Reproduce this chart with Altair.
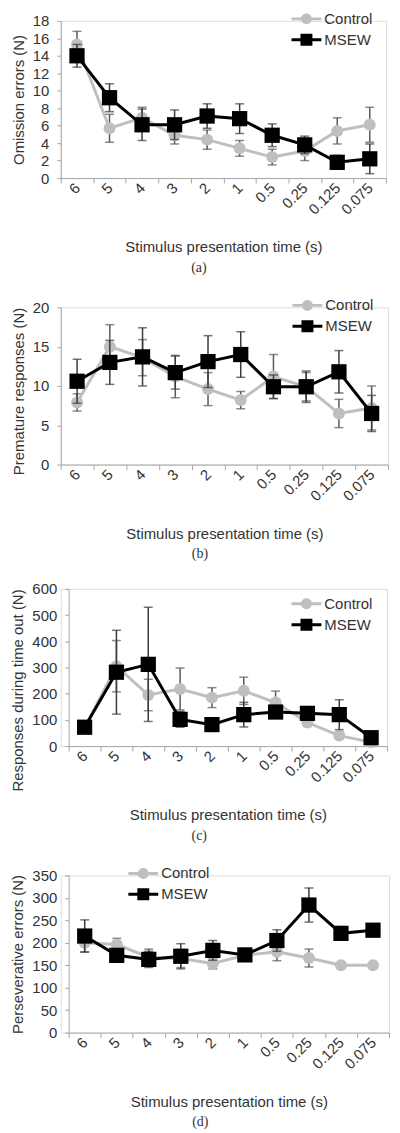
import altair as alt
import pandas as pd

categories = ["6", "5", "4", "3", "2", "1", "0.5", "0.25", "0.125", "0.075"]
groups = ["Control", "MSEW"]

# (a) Omission errors
control_a = [15.3, 5.7, 6.9, 4.9, 4.4, 3.4, 2.4, 3.1, 5.4, 6.1]
control_a_se = [1.5, 1.6, 1.2, 1.0, 1.1, 0.9, 0.9, 1.1, 1.5, 2.0]
msew_a = [14.0, 9.2, 6.1, 6.1, 7.1, 6.8, 4.9, 3.8, 1.8, 2.2]
msew_a_se = [1.3, 1.6, 1.8, 1.7, 1.4, 1.7, 1.3, 1.0, 0.8, 1.7]

# (b) Premature responses
control_b = [7.9, 15.0, 13.6, 11.2, 9.6, 8.2, 11.2, 9.9, 6.5, 7.2]
control_b_se = [1.1, 2.8, 2.3, 2.7, 2.1, 1.1, 2.8, 1.8, 1.8, 2.8]
msew_b = [10.6, 13.0, 13.7, 11.7, 13.1, 14.0, 9.9, 9.9, 11.8, 6.5]
msew_b_se = [2.8, 2.8, 3.7, 2.1, 3.3, 2.9, 1.5, 2.0, 2.7, 2.3]

# (c) Responses during time out
control_c = [70, 305, 195, 218, 185, 211, 166, 90, 40, 15]
control_c_se = [10, 98, 60, 80, 38, 52, 44, 15, 12, 5]
msew_c = [72, 282, 312, 102, 82, 120, 130, 125, 120, 32]
msew_c_se = [10, 160, 218, 30, 15, 47, 15, 15, 57, 10]

# (d) Perseverative errors
control_d = [200, 196, 168, 165, 154, 172, 180, 166, 150, 150]
control_d_se = [20, 14, 18, 20, 12, 10, 20, 20, 5, 5]
msew_d = [215, 172, 163, 170, 183, 173, 205, 284, 221, 228]
msew_d_se = [36, 15, 18, 28, 22, 12, 24, 38, 15, 10]

GREY = "#bfbfbf"
BLACK = "#000000"
TXT = "#333333"
AXC = "#a6a6a6"
FONT = "Liberation Sans"

CIRCLE_PATH = ("M-1.5,-0.15 H1.5 V0.15 H-1.5 Z "
               "M0.55,0 A0.55,0.55 0 1,1 -0.55,0 A0.55,0.55 0 1,1 0.55,0 Z")
SQUARE_PATH = ("M-1.5,-0.15 H1.5 V0.15 H-1.5 Z "
               "M-0.6,-0.6 H0.6 V0.6 H-0.6 Z")


def panel(ctrl, ctrl_se, msew, msew_se, ytitle, ymax, ystep, caption,
          leg_x, leg_y, width, title_anchor, shift):
    df = pd.DataFrame({
        "time": categories * 2,
        "group": ["Control"] * 10 + ["MSEW"] * 10,
        "mean": ctrl + msew,
        "se": ctrl_se + msew_se,
        "order": list(range(10)) * 2,
    })
    xscale = alt.Scale(type="band", paddingInner=0, paddingOuter=0)
    if shift:
        xscale = alt.Scale(type="band", paddingInner=0, paddingOuter=0,
                           range=[shift, width])
    xenc = alt.X(
        "time:N", sort=categories, scale=xscale,
        axis=alt.Axis(
            title="Stimulus presentation time (s)", labelAngle=-45,
            labelAlign="right", labelBaseline="middle", labelFontSize=15,
            labelFont=FONT, labelColor=TXT, labelPadding=2,
            tickBand="extent", tickSize=5, tickColor=AXC, domainColor=AXC,
            titleFontSize=15, titleFont=FONT, titleFontWeight="normal",
            titleColor=TXT, titlePadding=23, grid=False,
        ),
    )
    yscale = alt.Scale(domain=[0, ymax], nice=False, zero=True)
    yaxis = alt.Axis(
        title=ytitle, values=list(range(0, ymax + 1, ystep)),
        labelFontSize=15, labelFont=FONT, labelColor=TXT, labelPadding=8,
        tickSize=4, tickColor=AXC, domainColor=AXC, grid=False,
        titleFontSize=15, titleFont=FONT, titleFontWeight="normal",
        titleColor=TXT, titlePadding=6, titleAnchor=title_anchor,
        offset=-shift,
    )
    base = alt.Chart(df).transform_calculate(
        lo="datum.mean - datum.se", hi="datum.mean + datum.se"
    )
    layers = []
    for g, col, shp, sz, ecol in [("Control", GREY, "circle", 145, "#5a5a5a"),
                                  ("MSEW", BLACK, "square", 235, "#3a3a3a")]:
        b = base.transform_filter(alt.datum.group == g)
        err = b.mark_errorbar(color=ecol, thickness=1.5,
                              ticks={"size": 9}).encode(
            x=xenc,
            y=alt.Y("lo:Q", scale=yscale, axis=yaxis, title=ytitle),
            y2="hi:Q",
        )
        line = b.mark_line(color=col, strokeWidth=3).encode(
            x=xenc, y=alt.Y("mean:Q", scale=yscale, axis=yaxis, title=ytitle),
            order="order:Q",
        )
        pts = b.mark_point(filled=True, shape=shp, size=sz, color=col,
                           opacity=1).encode(
            x=xenc, y=alt.Y("mean:Q", scale=yscale, axis=yaxis, title=ytitle),
        )
        layers += [err, line, pts]

    leg = alt.Legend(
        title=None, orient="none", legendX=leg_x, legendY=leg_y,
        symbolSize=400, symbolStrokeWidth=0, labelFontSize=15,
        labelFont=FONT, labelColor=TXT, rowPadding=3, labelOffset=8,
        padding=0,
    )
    legend_layer = alt.Chart(pd.DataFrame({"group": groups})).transform_filter(
        "false"
    ).mark_point(filled=True, opacity=1).encode(
        color=alt.Color("group:N",
                        scale=alt.Scale(domain=groups, range=[GREY, BLACK]),
                        legend=leg),
        shape=alt.Shape("group:N",
                        scale=alt.Scale(domain=groups,
                                        range=[CIRCLE_PATH, SQUARE_PATH]),
                        legend=leg),
    )
    layers.append(legend_layer)
    return alt.layer(*layers).properties(
        width=width, height=158,
        title=alt.TitleParams(caption, orient="bottom", font="Liberation Serif",
                              fontSize=14, fontWeight="normal", color=TXT,
                              anchor="middle", frame="bounds", offset=6),
    )


pa = panel(control_a, control_a_se, msew_a, msew_a_se,
           "Omission errors (N)", 18, 2, "(a)", 237, -12, 327, "middle", 0)
pb = panel(control_b, control_b_se, msew_b, msew_b_se,
           "Premature responses (N)", 20, 5, "(b)", 238, -12, 329, "end", 0)
pc = panel(control_c, control_c_se, msew_c, msew_c_se,
           "Responses during time out (N)", 600, 100, "(c)", 237, 5, 328,
           "end", 8)
pd_ = panel(control_d, control_d_se, msew_d, msew_d_se,
            "Perseverative errors (N)", 350, 50, "(d)", 73, -12, 330,
            "middle", 8)

chart = alt.vconcat(pa, pb, pc, pd_, spacing=19).resolve_scale(
    color="independent", shape="independent"
).properties(
    padding={"left": 2, "top": -3, "right": 2, "bottom": 0}
).configure_view(stroke=None).configure(background="white")

chart.save("out.html", embed_options={"renderer": "svg", "actions": False})
